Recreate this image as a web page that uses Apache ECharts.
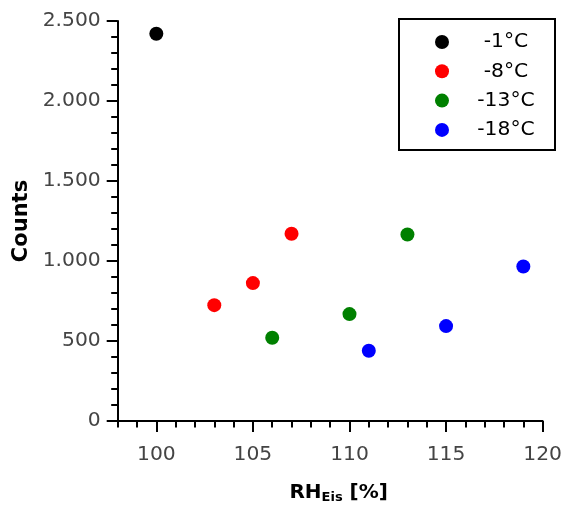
<!DOCTYPE html>
<html>
<head>
<meta charset="utf-8">
<script src="https://cdn.jsdelivr.net/npm/echarts@6/dist/echarts.min.js"></script>
<style>html,body{margin:0;padding:0;background:#fff}#c{width:565px;height:509px}</style>
</head>
<body>
<div id="c"></div>
<script>
const seriesNames = ['-1°C', '-8°C', '-13°C', '-18°C'];
const seriesColors = ['#000000', '#ff0000', '#008000', '#0000ff'];
const rhM1 = [100];
const countsM1 = [2420];
const rhM8 = [103, 105, 107];
const countsM8 = [724, 862, 1170];
const rhM13 = [106, 110, 113];
const countsM13 = [520, 668, 1166];
const rhM18 = [111, 115, 119];
const countsM18 = [439, 593, 966];
const xTickLabels = [100, 105, 110, 115, 120];
const yTickLabels = [0, 500, 1000, 1500, 2000, 2500];

const xs = [rhM1, rhM8, rhM13, rhM18];
const ys = [countsM1, countsM8, countsM13, countsM18];
const FONT = 'DejaVu Sans';

function fmtY(v) {
  return String(v).replace(/\B(?=(\d{3})+(?!\d))/g, '.');
}

const chart = echarts.init(document.getElementById('c'), null, {renderer: 'canvas'});
const axisLineStyle = {color: '#000', width: 2};
chart.setOption({
  animation: false,
  backgroundColor: '#fff',
  grid: {left: 117.7, right: 21.7, top: 21, bottom: 86.5, containLabel: false},
  legend: {
    data: seriesNames,
    orient: 'vertical',
    left: 399,
    top: 19,
    padding: [13, 14, 10, 36],
    borderColor: '#000',
    borderWidth: 2,
    itemWidth: 14,
    itemHeight: 14,
    itemGap: 9.3,
    icon: 'circle',
    formatter: '{a|{name}}',
    textStyle: {
      fontFamily: FONT,
      fontSize: 20,
      color: '#000',
      rich: {a: {fontFamily: FONT, fontSize: 20.3, color: '#000', width: 70, align: 'center', padding: [0, 0, 0, 17], lineHeight: 20}}
    }
  },
  xAxis: [{
    type: 'value',
    min: 98, max: 120,
    position: 'bottom',
    name: '{b|RH}{s|Eis}{b| [%]}',
    nameLocation: 'middle',
    nameGap: 60,
    nameTextStyle: {
      padding: [0, 0, 0, 17],
      rich: {
        b: {fontFamily: FONT, fontWeight: 'bold', fontSize: 20, color: '#000'},
        s: {fontFamily: FONT, fontWeight: 'bold', fontSize: 13, color: '#000', padding: [10, 0, 0, 0]}
      }
    },
    axisLine: {show: true, onZero: false, lineStyle: axisLineStyle},
    axisTick: {show: true, inside: false, length: 11, lineStyle: axisLineStyle, customValues: xTickLabels},
    axisLabel: {show: true, margin: 24, fontFamily: FONT, fontSize: 20.3, color: '#444', customValues: xTickLabels},
    splitLine: {show: false}
  }, {
    type: 'value',
    min: 98, max: 120, interval: 1,
    position: 'bottom',
    axisLine: {show: false},
    axisTick: {show: true, inside: false, length: 6.5, lineStyle: axisLineStyle},
    axisLabel: {show: false},
    splitLine: {show: false}
  }],
  yAxis: {
    type: 'value',
    min: yTickLabels[0], max: yTickLabels[yTickLabels.length - 1], interval: 500,
    name: 'Counts',
    nameLocation: 'middle',
    nameGap: 84,
    nameTextStyle: {fontFamily: FONT, fontWeight: 'bold', fontSize: 21, color: '#000'},
    axisLine: {show: true, onZero: false, lineStyle: axisLineStyle},
    axisTick: {show: true, inside: false, length: 11, lineStyle: axisLineStyle},
    minorTick: {show: true, splitNumber: 5, length: 6.5, lineStyle: axisLineStyle},
    axisLabel: {margin: 17, fontFamily: FONT, fontSize: 20.3, color: '#444', formatter: fmtY},
    splitLine: {show: false}
  },
  series: seriesNames.map((n, i) => ({
    name: n,
    type: 'scatter',
    xAxisIndex: 0,
    symbol: 'circle',
    symbolSize: 14,
    itemStyle: {color: seriesColors[i], opacity: 1},
    data: xs[i].map((x, j) => [x, ys[i][j]])
  }))
});
</script>
</body>
</html>
